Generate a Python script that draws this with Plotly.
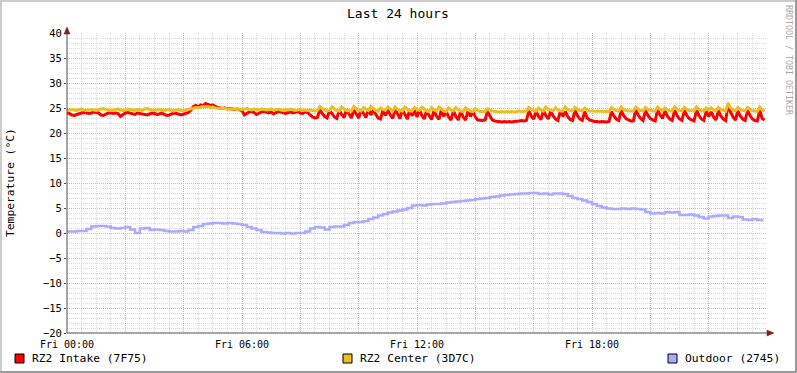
import plotly.graph_objects as go

# ---------------- data ----------------
# 5-minute samples starting Fri 00:00
intake = [
    # 00:00 - 04:15
    24.0, 23.9, 23.6, 23.5, 23.7, 23.9, 24.0, 24.1, 24.0, 23.9,
    24.0, 24.2, 24.1, 24.0, 23.6, 23.5, 23.8, 24.0, 24.0, 23.9,
    24.0, 23.9, 23.3, 23.6, 24.0, 24.1, 24.0, 23.8, 23.7, 24.0,
    23.9, 23.8, 23.7, 23.6, 23.8, 24.0, 23.9, 23.7, 23.8, 24.0,
    23.7, 23.5, 23.6, 23.8, 24.0, 23.9, 23.7, 23.6, 23.8, 24.0,
    24.1,
    # warm bump
    24.6, 25.3, 25.5, 25.2, 25.6, 25.4, 25.9, 25.7, 25.5, 25.6, 25.3,
    # 05:10 - 08:15
    25.1, 25.0, 24.9, 25.0, 24.8, 24.9, 24.8, 24.7, 24.8, 24.6,
    24.5, 23.6, 23.9, 24.2, 24.3, 24.1, 23.7, 24.0, 24.2, 24.3,
    24.1, 24.0, 24.2, 23.8, 24.1, 24.3, 24.2, 24.0, 23.9, 24.1,
    24.2, 24.0, 24.1, 24.3, 24.0, 23.9, 24.2, 24.1,
    # 08:20 - 14:25 dense cycling
    23.6, 23.2, 23.0, 23.1, 24.6, 24.0, 23.3, 23.0, 24.5, 23.9,
    23.2, 22.9, 24.6, 23.7, 23.1, 24.7, 23.8, 23.0, 24.6, 23.8,
    23.0, 24.7, 23.9, 23.1, 24.8, 23.6, 24.5, 23.7, 23.0, 22.8,
    24.6, 23.5, 24.7, 23.6, 22.9, 24.8, 23.7, 22.9, 24.7, 23.6,
    22.8, 24.6, 23.4, 24.5, 23.2, 24.7, 23.5, 22.8, 24.6, 23.5,
    22.7, 24.5, 23.4, 22.7, 24.6, 23.3, 24.4, 23.2, 22.6, 24.5,
    23.3, 22.6, 24.4, 23.2, 22.6, 24.5, 23.3, 24.3, 23.2, 22.6,
    22.5, 22.5, 22.6, 24.3,
    # 14:30 - 15:25 flat
    23.4, 22.6, 22.4, 22.3, 22.3, 22.2, 22.3, 22.2, 22.3, 22.2, 22.3, 22.3,
    # 15:30 - 23:55
    22.4, 22.5, 22.4, 22.5, 24.4, 23.4, 22.8, 24.3, 23.3, 22.7,
    24.5, 23.5, 22.8, 24.4, 23.4, 22.8, 22.5, 24.5, 23.3, 24.3,
    23.3, 22.7, 22.5, 24.6, 23.5, 22.8, 22.5, 24.3, 23.0, 22.6,
    22.4, 22.3, 22.3, 22.2, 22.3, 22.2, 22.2, 22.3, 24.3, 23.4,
    22.8, 22.5, 24.5, 23.5, 22.9, 22.6, 22.4, 22.4, 24.6, 23.6,
    22.9, 22.5, 24.5, 23.5, 22.9, 22.6, 22.4, 24.7, 23.6, 22.9,
    24.4, 23.4, 22.8, 22.5, 24.6, 23.5, 22.8, 22.5, 24.5, 23.5,
    22.9, 22.6, 22.4, 24.6, 23.5, 22.8, 22.5, 24.4, 23.3, 24.2,
    23.2, 22.6, 24.5, 23.4, 22.8, 22.5, 25.6, 24.2, 23.2, 22.6,
    24.4, 23.4, 22.8, 22.5, 24.5, 23.5, 22.8, 22.5, 22.4, 24.6,
    22.9, 22.6,
]

center = [
    24.5, 24.6, 24.7, 24.6, 24.5, 24.7, 24.8, 24.6, 24.5, 24.6,
    24.7, 24.6, 24.5, 24.7, 24.8, 24.9, 24.7, 24.6, 24.5, 24.6,
    24.7, 24.8, 24.6, 24.5, 24.6, 24.8, 24.7, 24.6, 24.5, 24.7,
    24.6, 24.5, 24.8, 24.9, 24.7, 24.6, 24.5, 24.6, 24.7, 24.6,
    24.5, 24.6, 24.7, 24.5, 24.4, 24.6, 24.7, 24.5, 24.4, 24.6,
    24.7,
    24.8, 25.0, 25.1, 25.0, 25.2, 25.3, 25.2, 25.3, 25.1, 25.2, 25.0,
    25.0, 25.0, 24.9, 24.9, 24.8, 24.8, 24.9, 24.8, 24.7, 24.8,
    24.7, 24.8, 24.9, 24.7, 24.6, 24.8, 24.7, 24.6, 24.8, 24.7,
    24.6, 24.7, 24.8, 24.6, 24.7, 24.8, 24.6, 24.5, 24.7, 24.6,
    24.8, 24.7, 24.5, 24.6, 24.7, 24.5, 24.6, 24.5,
    24.6, 24.5, 24.4, 24.5, 25.3, 24.9, 24.6, 24.4, 24.5, 25.2,
    24.8, 24.5, 24.4, 25.2, 24.8, 24.5, 24.4, 24.4, 25.3, 24.8,
    24.5, 24.4, 25.1, 24.7, 24.5, 25.3, 24.8, 24.5, 24.4, 25.0,
    24.7, 24.5, 25.2, 24.7, 24.4, 25.2, 24.7, 24.5, 24.4, 25.2,
    24.7, 24.4, 24.4, 25.1, 24.7, 24.5, 25.2, 24.7, 24.4, 24.3,
    25.1, 24.6, 24.4, 25.2, 24.7, 24.4, 24.3, 25.0, 24.6, 24.4,
    25.1, 24.6, 24.4, 24.3, 25.0, 24.6, 24.4, 24.3, 24.9, 24.5,
    24.3, 24.3, 24.3, 24.8,
    24.5, 24.4, 24.3, 24.3, 24.2, 24.3, 24.2, 24.3, 24.2, 24.3, 24.2, 24.3,
    24.4, 24.3, 24.4, 24.4, 25.1, 24.7, 24.5, 24.4, 25.0, 24.6,
    24.4, 25.2, 24.7, 24.5, 24.4, 25.1, 24.6, 24.4, 24.4, 25.2,
    24.7, 24.5, 24.4, 25.1, 24.7, 24.5, 24.4, 25.0, 24.6, 24.4,
    24.4, 24.3, 24.3, 24.4, 24.3, 24.3, 24.4, 24.3, 25.1, 24.7,
    24.5, 24.4, 25.2, 24.7, 24.5, 24.4, 24.4, 24.4, 25.2, 24.8,
    24.5, 24.4, 25.1, 24.7, 24.5, 24.4, 24.4, 25.2, 24.7, 24.5,
    25.0, 24.6, 24.4, 24.4, 25.2, 24.7, 24.5, 24.4, 25.1, 24.7,
    24.5, 24.4, 24.4, 25.2, 24.7, 24.5, 24.4, 25.0, 24.6, 25.0,
    24.6, 24.4, 25.1, 24.7, 24.5, 24.4, 26.0, 25.0, 24.6, 24.4,
    25.1, 24.7, 24.5, 24.4, 25.1, 24.7, 24.5, 24.4, 24.3, 25.2,
    24.6, 24.4,
]

# 10-minute samples starting Fri 00:00
outdoor = [
    0.3, 0.3, 0.4, 0.4, 0.8, 1.3, 1.4, 1.4, 1.3, 1.0,
    0.9, 1.0, 1.2, 0.7, 0.0, 0.9, 1.0, 0.6, 0.7, 0.6,
    0.4, 0.3, 0.3, 0.4, 0.3, 0.6, 1.2, 1.4, 1.8, 1.9,
    2.0, 2.0, 1.9, 2.0, 1.9, 1.8, 1.6, 1.2, 0.9, 0.6,
    0.2, 0.1, 0.0, 0.0, -0.1, 0.0, -0.1, 0.0, 0.0, 0.3,
    0.9, 1.2, 1.1, 0.7, 1.2, 1.3, 1.3, 1.6, 2.0, 2.2,
    2.2, 2.4, 2.8, 3.1, 3.5, 3.8, 4.1, 4.3, 4.5, 4.7,
    5.0, 5.5, 5.6, 5.5, 5.7, 5.8, 5.8, 5.9, 6.1, 6.2,
    6.3, 6.4, 6.5, 6.6, 6.8, 6.9, 7.0, 7.2, 7.3, 7.5,
    7.6, 7.7, 7.8, 7.9, 7.9, 8.0, 8.0, 7.8, 7.9, 7.7,
    7.9, 7.9, 7.8, 7.4, 7.0, 6.8, 6.5, 6.2, 5.8, 5.4,
    5.1, 4.9, 4.8, 4.8, 4.9, 4.8, 4.9, 4.8, 4.7, 4.2,
    3.9, 4.0, 3.9, 4.2, 4.1, 4.2, 3.6, 3.6, 3.7, 3.5,
    3.2, 2.9, 3.3, 3.4, 3.5, 3.5, 3.0, 3.3, 3.2, 2.7,
    2.6, 2.8, 2.6, 2.3,
]

intake_t = [5 * i for i in range(len(intake))]
center_t = [5 * i for i in range(len(center))]
outdoor_t = [10 * i for i in range(len(outdoor))]

series_names = ["RZ2 Intake (7F75)", "RZ2 Center (3D7C)", "Outdoor (2745)"]
series_colors = ["#FF0000", "#EAC01E", "#AAAAFF"]

x_tick_vals = list(range(0, 1441, 120))
x_tick_text = ["Fri 00:00", "", "", "Fri 06:00", "", "", "Fri 12:00", "", "",
               "Fri 18:00", "", "", ""]
y_tick_vals = list(range(-20, 41, 5))

title_text = "Last 24 hours"
y_title = "Temperature (°C)"
watermark = "RRDTOOL / TOBI OETIKER"

# ---------------- figure ----------------
W, H = 797, 373
L, R, T, B = 67, 30, 33, 40
PW, PH = W - L - R, H - T - B


def px(p):
    return (p - L) / PW


def py(p):
    return (H - B - p) / PH


FONT = "DejaVu Sans Mono"
fig = go.Figure()

fig.add_trace(go.Scatter(x=intake_t, y=intake, mode="lines", line_shape="linear",
                         line=dict(color=series_colors[0], width=3),
                         name=series_names[0]))
fig.add_trace(go.Scatter(x=center_t, y=center, mode="lines", line_shape="linear",
                         line=dict(color=series_colors[1], width=3),
                         name=series_names[1]))
fig.add_trace(go.Scatter(x=outdoor_t, y=outdoor, mode="lines", line_shape="hv",
                         line=dict(color=series_colors[2], width=2.6),
                         name=series_names[2]))

minor_grid = "#DADADA"
major_grid = "#E2B0B0"
axis_col = "#5A4A4A"

fig.update_layout(
    width=W, height=H,
    margin=dict(l=L, r=R, t=T, b=B, pad=0),
    paper_bgcolor="white", plot_bgcolor="white",
    showlegend=False,
    font=dict(family=FONT, color="black", size=10),
    xaxis=dict(
        range=[0, 1440], tickmode="array", tickvals=x_tick_vals, ticktext=x_tick_text,
        showgrid=True, gridcolor=major_grid, griddash="1px,1px", gridwidth=1,
        minor=dict(tickmode="linear", tick0=0, dtick=30, showgrid=True,
                   gridcolor=minor_grid, griddash="1px,1px", gridwidth=1),
        ticks="outside", ticklen=2, tickcolor="rgba(0,0,0,0)",
        zeroline=False, showline=False, fixedrange=True,
        tickfont=dict(family=FONT, size=10),
    ),
    yaxis=dict(
        range=[-20, 40], tickmode="array", tickvals=y_tick_vals,
        showgrid=True, gridcolor=major_grid, griddash="1px,1px", gridwidth=1,
        minor=dict(tickmode="linear", tick0=0, dtick=1, showgrid=True,
                   gridcolor=minor_grid, griddash="1px,1px", gridwidth=1),
        ticks="outside", ticklen=2, tickcolor=axis_col,
        zeroline=False, showline=False, fixedrange=True,
        tickfont=dict(family=FONT, size=10.5),
    ),
)

shapes = []
# outer frame (3D look)
shapes.append(dict(type="rect", xref="paper", yref="paper", x0=px(0), x1=px(W), y0=py(0), y1=py(2),
                   fillcolor="#CCCCCC", line=dict(width=0), layer="above"))
shapes.append(dict(type="rect", xref="paper", yref="paper", x0=px(0), x1=px(2), y0=py(0), y1=py(H),
                   fillcolor="#CCCCCC", line=dict(width=0), layer="above"))
shapes.append(dict(type="rect", xref="paper", yref="paper", x0=px(0), x1=px(W), y0=py(H - 2), y1=py(H),
                   fillcolor="#999999", line=dict(width=0), layer="above"))
shapes.append(dict(type="rect", xref="paper", yref="paper", x0=px(W - 2), x1=px(W), y0=py(0), y1=py(H),
                   fillcolor="#999999", line=dict(width=0), layer="above"))
# axes
shapes.append(dict(type="line", xref="paper", yref="paper", x0=px(L), x1=px(770), y0=py(333), y1=py(333),
                   line=dict(color=axis_col, width=1)))
shapes.append(dict(type="line", xref="paper", yref="paper", x0=px(L), x1=px(L), y0=py(333), y1=py(30),
                   line=dict(color=axis_col, width=1)))
# arrows
shapes.append(dict(type="path", xref="paper", yref="paper",
                   path=f"M {px(64)} {py(34)} L {px(70)} {py(34)} L {px(67)} {py(27)} Z",
                   fillcolor="#7F1F1F", line=dict(color="#7F1F1F", width=0.5)))
shapes.append(dict(type="path", xref="paper", yref="paper",
                   path=f"M {px(767)} {py(330)} L {px(767)} {py(336)} L {px(774)} {py(333)} Z",
                   fillcolor="#7F1F1F", line=dict(color="#7F1F1F", width=0.5)))

annotations = [
    dict(text=title_text, x=px(397.5), y=py(13), xref="paper", yref="paper",
         xanchor="center", yanchor="middle", showarrow=False, font=dict(family=FONT, size=13)),
    dict(text=y_title, x=px(10), y=py(183), xref="paper", yref="paper", textangle=-90,
         xanchor="center", yanchor="middle", showarrow=False, font=dict(family=FONT, size=11.3)),
    dict(text=watermark, x=px(789), y=py(60), xref="paper", yref="paper", textangle=90,
         xanchor="center", yanchor="middle", showarrow=False,
         font=dict(family=FONT, size=8.3, color="#A8A8A8")),
]

legend_sq_x = [15, 343, 668]
for i, name in enumerate(series_names):
    sx = legend_sq_x[i]
    shapes.append(dict(type="rect", xref="paper", yref="paper",
                       x0=px(sx), x1=px(sx + 9), y0=py(354), y1=py(363),
                       fillcolor=series_colors[i], line=dict(color="black", width=1)))
    annotations.append(dict(text=name, x=px(sx + 14.5), y=py(358.5), xref="paper", yref="paper",
                            xanchor="left", yanchor="middle", showarrow=False,
                            font=dict(family=FONT, size=11.3)))

fig.update_layout(shapes=shapes, annotations=annotations)
fig.write_html("out.html", config={"displayModeBar": False},
               post_script="document.body.style.margin='0';document.body.style.overflow='hidden';")
